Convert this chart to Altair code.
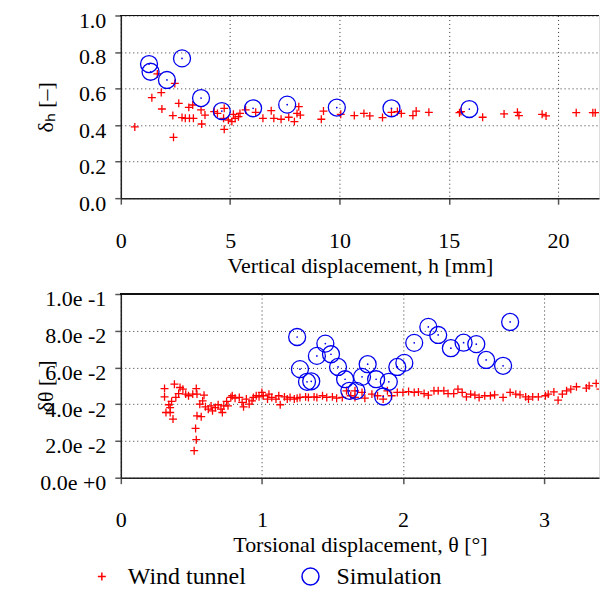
import altair as alt
import pandas as pd

# ---------------- data ----------------
series_names = ["Wind tunnel", "Simulation"]

# top panel: vertical displacement h [mm] vs delta_h
wt_h = [0.64, 1.42, 1.67, 1.85, 1.88, 2.38, 2.41, 2.47, 2.65, 2.80, 2.95, 3.11, 3.14, 3.29, 3.32,
        3.67, 3.70, 3.85, 4.27, 4.42, 4.73, 4.73, 4.70, 4.92, 5.08, 5.15, 5.23, 5.38, 5.45, 5.71,
        6.17, 6.50, 6.88, 7.00, 7.33, 7.68, 7.94, 8.06, 8.14, 8.21, 9.17, 9.27, 10.06, 10.68,
        11.12, 11.39, 11.97, 12.38, 12.65, 12.83, 13.36, 13.51, 14.09, 15.49, 15.56, 16.55,
        17.53, 18.14, 18.21, 19.27, 19.45, 20.83, 21.59, 21.70, 22.10]
wt_dh = [0.39, 0.55, 0.68, 0.578, 0.488, 0.452, 0.333, 0.628, 0.519, 0.441, 0.437, 0.497, 0.437,
         0.51, 0.437, 0.483, 0.406, 0.455, 0.474, 0.464, 0.377, 0.492, 0.437, 0.428, 0.419, 0.459,
         0.437, 0.446, 0.464, 0.483, 0.47, 0.437, 0.479, 0.437, 0.432, 0.443, 0.419, 0.464, 0.501,
         0.455, 0.432, 0.477, 0.459, 0.452, 0.464, 0.45, 0.441, 0.47, 0.474, 0.464, 0.452, 0.477,
         0.47, 0.468, 0.474, 0.443, 0.461, 0.47, 0.452, 0.459, 0.45, 0.468, 0.468, 0.468, 0.464]
sim_h = [1.29, 1.36, 2.11, 2.80, 3.67, 4.62, 6.05, 7.61, 9.88, 12.38, 15.94]
sim_dh = [0.734, 0.692, 0.647, 0.765, 0.548, 0.477, 0.492, 0.512, 0.496, 0.492, 0.488]

# bottom panel: torsional displacement theta [deg] vs delta_theta
wt_t = [0.31, 0.31, 0.32, 0.34, 0.35, 0.35, 0.37, 0.38, 0.36, 0.39, 0.41, 0.42, 0.44, 0.46, 0.48,
        0.51, 0.535, 0.54, 0.53, 0.535, 0.52, 0.54, 0.57, 0.56, 0.58, 0.59, 0.60, 0.62, 0.64, 0.65,
        0.67, 0.69, 0.71, 0.72, 0.73, 0.75, 0.76, 0.78, 0.79, 0.81, 0.84, 0.86, 0.87, 0.89, 0.91,
        0.93, 0.94, 0.96, 0.98, 1.00, 1.01, 1.04, 1.05, 1.07, 1.10, 1.12, 1.13, 1.16, 1.18, 1.20,
        1.23, 1.25, 1.27, 1.31, 1.33, 1.37, 1.39, 1.43, 1.46, 1.50, 1.53, 1.57, 1.60, 1.63, 1.66,
        1.66, 1.71, 1.73, 1.78, 1.82, 1.86, 1.89, 1.92, 1.96, 2.00, 2.04, 2.08, 2.11, 2.15, 2.18,
        2.22, 2.25, 2.29, 2.32, 2.36, 2.39, 2.42, 2.45, 2.48, 2.51, 2.54, 2.58, 2.62, 2.65, 2.71,
        2.76, 2.80, 2.83, 2.87, 2.89, 2.92, 2.96, 3.01, 3.03, 3.07, 3.10, 3.13, 3.16, 3.19, 3.23,
        3.30, 3.32, 3.37, 3.40]
wt_dt = [0.0485, 0.044, 0.0355, 0.0397, 0.0382, 0.0355, 0.0319, 0.0509, 0.0415, 0.0437, 0.0458,
         0.0491, 0.0482, 0.0455, 0.0446, 0.0455, 0.0485, 0.0455, 0.0268, 0.0207, 0.0147, 0.0337,
         0.0332, 0.040, 0.0418, 0.0449, 0.0386, 0.0373, 0.0391, 0.0364, 0.0382, 0.0397, 0.0373,
         0.0355, 0.0391, 0.0415, 0.0391, 0.0437, 0.0446, 0.0433, 0.0437, 0.041, 0.0386, 0.0428,
         0.040, 0.0418, 0.0437, 0.0446, 0.044, 0.0464, 0.0446, 0.0428, 0.0455, 0.0437, 0.0428,
         0.0446, 0.0397, 0.044, 0.0428, 0.0437, 0.0428, 0.0433, 0.0437, 0.044, 0.0437, 0.044,
         0.0437, 0.0446, 0.0437, 0.044, 0.0433, 0.0437, 0.0473, 0.0446, 0.0437,
         0.0473, 0.0464, 0.0433, 0.0455, 0.0446, 0.0428, 0.0473, 0.0446, 0.0464, 0.0464, 0.0469,
         0.0464, 0.0467, 0.0458, 0.0449, 0.0473, 0.0473, 0.0473, 0.0458, 0.0458, 0.0482, 0.0464,
         0.044, 0.0455, 0.0449, 0.0437, 0.0446, 0.0446, 0.0451, 0.0437, 0.0464, 0.0455, 0.0451,
         0.044, 0.0428, 0.044, 0.044, 0.0446, 0.0455, 0.0467, 0.0422, 0.0455, 0.0473, 0.0482,
         0.0495, 0.0488, 0.050, 0.0513, 0.0482]
sim_t = [1.25, 1.27, 1.32, 1.35, 1.39, 1.45, 1.49, 1.54, 1.59, 1.62, 1.67, 1.71, 1.75, 1.81,
         1.86, 1.90, 1.96, 2.01, 2.08, 2.18, 2.25, 2.34, 2.43, 2.52, 2.59, 2.71, 2.76]
sim_dt = [0.0766, 0.0591, 0.0522, 0.0525, 0.0663, 0.0730, 0.0672, 0.0603, 0.0536, 0.0473,
          0.0473, 0.0549, 0.0618, 0.0536, 0.0442, 0.0522, 0.0603, 0.0625, 0.0734, 0.0821,
          0.0777, 0.0705, 0.0735, 0.0727, 0.0641, 0.0609, 0.0848]

h_ticks = [0, 5, 10, 15, 20]
dh_ticks = [0.0, 0.2, 0.4, 0.6, 0.8, 1.0]
t_ticks = [0, 1, 2, 3]
dt_ticks = [0.0, 0.02, 0.04, 0.06, 0.08, 0.10]
dt_tick_labels = ["0.0e +0", "2.0e -2", "4.0e -2", "6.0e -2", "8.0e -2", "1.0e -1"]

# ---------------- build ----------------
top_df = pd.concat([
    pd.DataFrame({"x": wt_h, "y": wt_dh, "series": series_names[0]}),
    pd.DataFrame({"x": sim_h, "y": sim_dh, "series": series_names[1]}),
])
bot_df = pd.concat([
    pd.DataFrame({"x": wt_t, "y": wt_dt, "series": series_names[0]}),
    pd.DataFrame({"x": sim_t, "y": sim_dt, "series": series_names[1]}),
])

RED = "#ff0000"
BLUE = "#0000ee"
FONT = "Liberation Serif"
FS = 22
LFS = 24
PLUS = "M-1,0L1,0M0,-1L0,1"

W = 479

color = alt.Color("series:N", scale=alt.Scale(domain=series_names, range=[RED, BLUE]),
                  legend=alt.Legend(title=None, orient="none", direction="horizontal",
                                    legendX=-31, legendY=550, columns=2,
                                    labelFont=FONT, labelFontSize=LFS, labelColor="black",
                                    labelOffset=14, columnPadding=52,
                                    symbolStrokeWidth=1.5))
shape = alt.Shape("series:N", scale=alt.Scale(domain=series_names, range=[PLUS, "circle"]))
size = alt.Size("series:N", scale=alt.Scale(domain=series_names, range=[64, 289]))

labelexpr = ""
for v, lab in zip(dt_ticks, dt_tick_labels):
    labelexpr += f"abs(datum.value - {v}) < 0.005 ? '{lab}' : "
labelexpr += "''"

axis_common = dict(labelFont=FONT, labelFontSize=FS, titleFont=FONT, titleFontSize=FS,
                   titleFontWeight="normal", labelColor="black", titleColor="black",
                   grid=True, gridDash=[1, 3], gridColor="#333", gridWidth=1,
                   domainColor="#222", domainWidth=1.5, tickColor="#555", tickWidth=1.5,
                   tickSize=6, labelOverlap=False, labelFlush=False)


def panel(df, xdom, xticks, xtitle, ydom, yticks, ytitle, h, yfmt=None, ylabelexpr=None):
    xaxis = alt.Axis(values=xticks, format="d", title=xtitle, labelPadding=26, titlePadding=4,
                     **axis_common)
    yargs = dict(values=yticks, title=ytitle, labelPadding=9, labelOffset=5, titleAngle=270,
                 titleBaseline="middle", titleAlign="center", titleX=-75, titleY=h / 2,
                 **axis_common)
    if yfmt:
        yargs["format"] = yfmt
    if ylabelexpr:
        yargs["labelExpr"] = ylabelexpr
    yaxis = alt.Axis(**yargs)
    xscale = alt.Scale(domain=xdom, nice=False, zero=False)
    yscale = alt.Scale(domain=ydom, nice=False)
    base = alt.Chart(df)
    pts = base.mark_point(filled=False, strokeWidth=1.3, opacity=1, clip=True).encode(
        x=alt.X("x:Q", scale=xscale, axis=xaxis),
        y=alt.Y("y:Q", scale=yscale, axis=yaxis),
        color=color, shape=shape, size=size,
    )
    dots = base.transform_filter(alt.datum.series == series_names[1]).mark_point(
        filled=True, size=3, color=BLUE, opacity=1, clip=True).encode(
        x=alt.X("x:Q", scale=xscale, axis=xaxis), y=alt.Y("y:Q", scale=yscale, axis=yaxis))
    frame_top = base.mark_rule(color="#111", strokeWidth=1.2).encode(
        y=alt.YDatum(ydom[1], type="quantitative", scale=yscale, axis=yaxis))
    return alt.layer(pts, dots, frame_top).properties(width=W, height=h)


top = panel(top_df, [0, 479 / 21.9], h_ticks, "Vertical displacement, h [mm]",
            [0, 1.0], dh_ticks, "δₕ [–]", 183, yfmt=".1f")
bot = panel(bot_df, [0, 479 / 141.3], t_ticks, "Torsional displacement, θ [°]",
            [0, 0.1], dt_ticks, "δθ [–]", 184, ylabelexpr=labelexpr)

chart = alt.vconcat(top, bot, spacing=96, bounds="flush").properties(
    padding={"left": 26, "top": 0, "right": 0, "bottom": 0}
).configure_view(strokeWidth=0, strokeOpacity=0).configure(background="white")

chart.save("out.html", embed_options={"renderer": "svg", "actions": False})
